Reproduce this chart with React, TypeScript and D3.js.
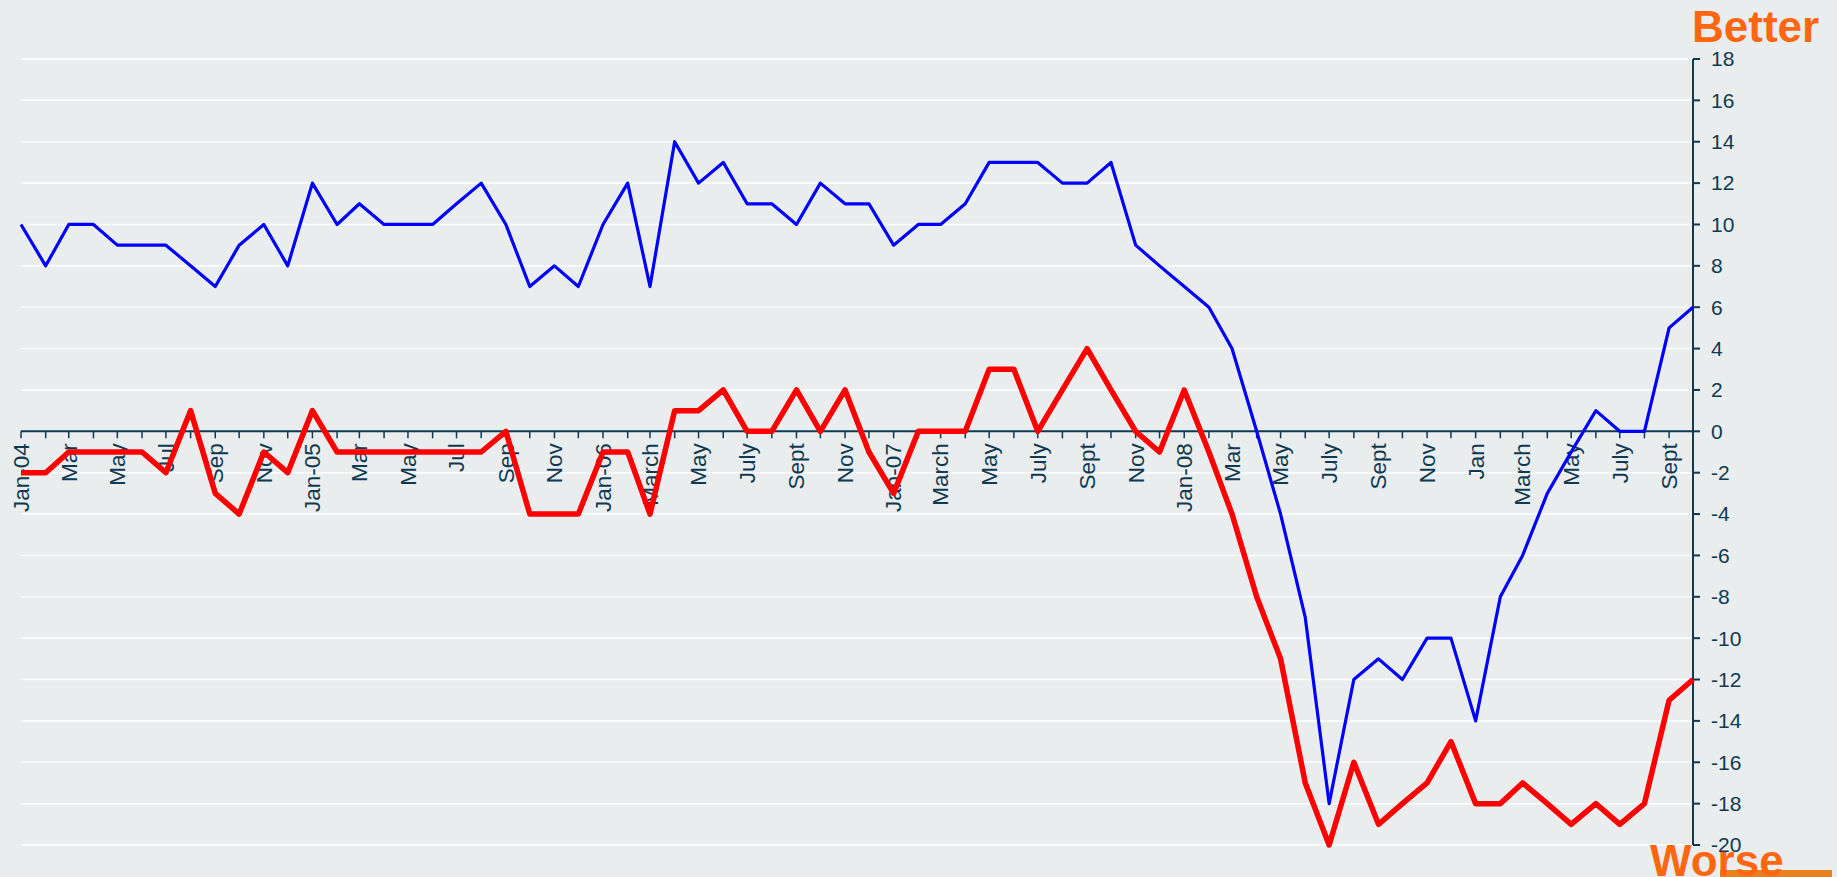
import { useMemo } from "react";
import { line as d3Line, scaleLinear, scaleTime, timeMonth, range } from "d3";

// months Jan 2004 .. Oct 2009
const months = timeMonth.range(new Date(2004, 0, 1), new Date(2009, 10, 1));

const tickLabels = [
  "Jan-04", "Mar", "May", "Jul", "Sep", "Nov",
  "Jan-05", "Mar", "May", "Jul", "Sep", "Nov",
  "Jan-06", "March", "May", "July", "Sept", "Nov",
  "Jan-07", "March", "May", "July", "Sept", "Nov",
  "Jan-08", "Mar", "May", "July", "Sept", "Nov",
  "Jan", "March", "May", "July", "Sept",
];

const blueSeries = [
  10, 8, 10, 10, 9, 9, 9, 8, 7, 9, 10, 8,
  12, 10, 11, 10, 10, 10, 11, 12, 10, 7, 8, 7,
  10, 12, 7, 14, 12, 13, 11, 11, 10, 12, 11, 11,
  9, 10, 10, 11, 13, 13, 13, 12, 12, 13, 9, 8,
  7, 6, 4, 0, -4, -9, -18, -12, -11, -12, -10, -10,
  -14, -8, -6, -3, -1, 1, 0, 0, 5, 6,
];

const redSeries = [
  -2, -2, -1, -1, -1, -1, -2, 1, -3, -4, -1, -2,
  1, -1, -1, -1, -1, -1, -1, -1, 0, -4, -4, -4,
  -1, -1, -4, 1, 1, 2, 0, 0, 2, 0, 2, -1,
  -3, 0, 0, 0, 3, 3, 0, 2, 4, 2, 0, -1,
  2, -1, -4, -8, -11, -17, -20, -16, -19, -18, -17, -15,
  -18, -18, -17, -18, -19, -18, -19, -18, -13, -12,
];

const yTicks = range(-20, 19, 2);

const width = 1837;
const height = 877;
const bg = "#e9edee";
const ink = "#0f3a52";
const font = "Arial, 'Liberation Sans', sans-serif";

export default function App() {
  const computed = useMemo(() => {
    const xScale = scaleTime<number, number>()
      .domain([months[0], months[months.length - 1]])
      .range([21, 1693]);
    const yScale = scaleLinear<number, number>()
      .domain([-20, 18])
      .range([845, 59]);
    const lineGen = d3Line<number>()
      .x((_, i) => xScale(months[i]))
      .y((d) => yScale(d));
    return {
      xScale,
      yScale,
      bluePath: lineGen(blueSeries) ?? "",
      redPath: lineGen(redSeries) ?? "",
    };
  }, []);

  const { xScale, yScale, bluePath, redPath } = computed;
  const x0 = xScale(months[0]);
  const x1 = xScale(months[months.length - 1]);
  const y0 = yScale(0);

  return (
    <svg
      width={width}
      height={height}
      viewBox={`0 0 ${width} ${height}`}
      style={{ position: "absolute", left: 0, top: 0, display: "block" }}
    >
      <rect x={0} y={0} width={width} height={height} fill={bg} />

      {yTicks
        .filter((t) => t !== 0)
        .map((t) => (
          <line
            key={`g-${t}`}
            x1={x0}
            x2={x1}
            y1={yScale(t)}
            y2={yScale(t)}
            stroke="#ffffff"
            strokeWidth={1.5}
          />
        ))}

      {/* x axis at zero */}
      <line x1={x0} x2={x1} y1={y0} y2={y0} stroke={ink} strokeWidth={2} />
      {months.map((m, i) => (
        <line
          key={`xt-${i}`}
          x1={xScale(m)}
          x2={xScale(m)}
          y1={y0}
          y2={y0 + 7}
          stroke={ink}
          strokeWidth={1.5}
        />
      ))}
      {tickLabels.map((label, k) => {
        const x = xScale(months[k * 2]);
        return (
          <text
            key={`xl-${k}`}
            transform={`translate(${x}, ${y0 + 12}) rotate(-90)`}
            textAnchor="end"
            dy="0.35em"
            fontFamily={font}
            fontSize={22.5}
            fill={ink}
          >
            {label}
          </text>
        );
      })}

      {/* right y axis */}
      <line
        x1={x1}
        x2={x1}
        y1={yScale(18)}
        y2={yScale(-20)}
        stroke={ink}
        strokeWidth={2}
      />
      {yTicks.map((t) => (
        <g key={`yt-${t}`} transform={`translate(${x1}, ${yScale(t)})`}>
          <line x1={0} x2={7} y1={0} y2={0} stroke={ink} strokeWidth={2} />
          <text
            x={18}
            dy="0.35em"
            fontFamily={font}
            fontSize={21}
            fill={ink}
          >
            {t}
          </text>
        </g>
      ))}

      <path
        d={bluePath}
        fill="none"
        stroke="#0000ff"
        strokeWidth={3.2}
        strokeLinejoin="round"
      />
      <path
        d={redPath}
        fill="none"
        stroke="#ff0000"
        strokeWidth={5.5}
        strokeLinejoin="round"
      />

      <text
        x={1692}
        y={42}
        fontFamily={font}
        fontWeight="bold"
        fontSize={44}
        fill="#ff6610"
      >
        Better
      </text>
      <rect x={1720} y={870} width={112} height={7} fill="#e8821e" />
      <text
        x={1650}
        y={876}
        fontFamily={font}
        fontWeight="bold"
        fontSize={44}
        fill="#ff6610"
      >
        Worse
      </text>
    </svg>
  );
}
